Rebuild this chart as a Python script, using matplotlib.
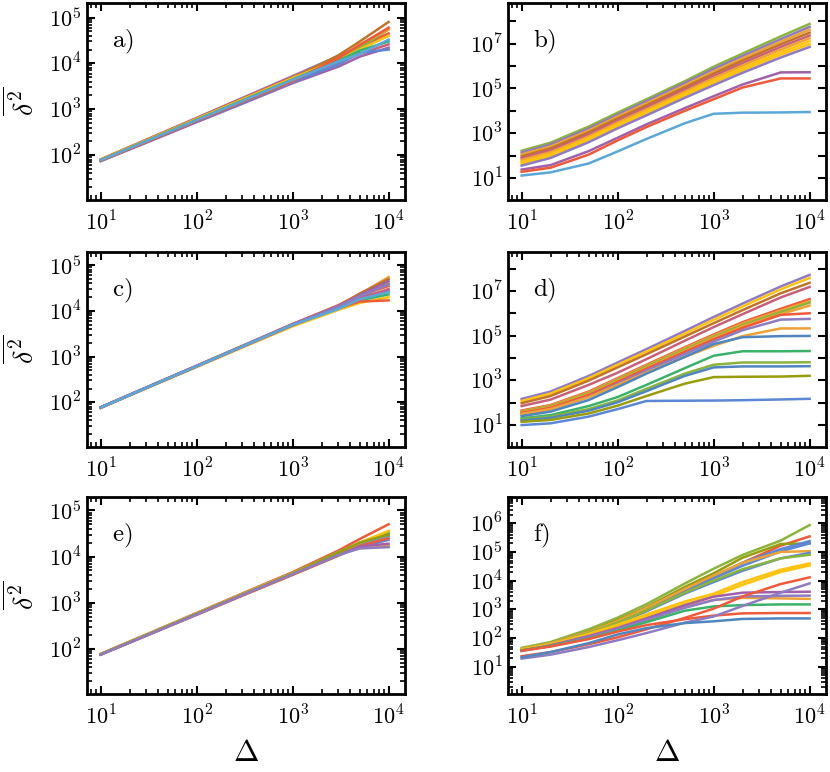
import numpy as np
import matplotlib
matplotlib.use('Agg')
import matplotlib.pyplot as plt
from matplotlib.ticker import LogLocator, FuncFormatter, NullLocator, NullFormatter

plt.rcParams['mathtext.fontset'] = 'cm'
plt.rcParams['font.family'] = 'serif'
plt.rcParams['font.serif'] = ['DejaVu Serif']

delta_left = [10, 30, 100, 300, 1000, 3000, 5000, 10000]
delta_right = [10, 20, 50, 100, 200, 500, 1000, 2000, 5000, 10000]

# colours
BLUE = '#5b87d6'
LBLUE = '#5aa7d8'
STEEL = '#4f86c0'
ORANGE = '#eea236'
RED = '#ef5a3a'
PURPLE = '#8e7cc3'
MAUVE = '#a260a8'
GREEN = '#3bb26a'
YGREEN = '#8ab43c'
OLIVE = '#999c0c'
GOLD = '#ffc20e'
BROWN = '#c0732a'
PINK = '#c9607a'

# panel a
msd_a = [
    [80, 218, 650, 1770, 5300, 1.45e4, 2.2e4, 4.0e4],
    [81, 216, 636, 1700, 5000, 1.35e4, 2.4e4, 4.5e4],
    [78, 206, 600, 1590, 4600, 1.2e4, 2.2e4, 5.5e4],
    [76, 200, 575, 1500, 4300, 1.25e4, 2.6e4, 5.5e4],
    [74, 187, 523, 1320, 3700, 8.5e3, 1.4e4, 2.2e4],
    [78, 208, 605, 1610, 4700, 1.5e4, 3.0e4, 8.0e4],
    [76, 199, 565, 1480, 4200, 1.05e4, 1.6e4, 2.6e4],
    [79, 210, 615, 1640, 4800, 1.2e4, 2.0e4, 4.0e4],
    [75, 192, 540, 1380, 3900, 9.5e3, 1.7e4, 2.0e4],
    [77, 204, 591, 1560, 4500, 1.15e4, 1.9e4, 3.0e4],
    [75, 194, 555, 1450, 4100, 1.3e4, 2.5e4, 6.0e4],
    [77, 202, 580, 1520, 4400, 1.1e4, 1.6e4, 3.3e4],
]
col_a = [PURPLE, RED, YGREEN, ORANGE, MAUVE, BROWN, PINK, GOLD, BLUE, GREEN, RED, LBLUE]

# panel b
msd_b = [
    [166, 380, 2000, 8300, 3.3e4, 2.1e5, 9.3e5, 3.6e6, 2.1e7, 7.6e7],
    [138, 316, 1620, 6760, 2.69e4, 1.74e5, 7.4e5, 2.8e6, 1.58e7, 5.6e7],
    [114, 257, 1330, 5560, 2.19e4, 1.38e5, 5.8e5, 2.2e6, 1.22e7, 4.2e7],
    [93, 211, 1100, 4570, 1.78e4, 1.12e5, 4.6e5, 1.74e6, 9.3e6, 3.1e7],
    [78, 174, 890, 3720, 1.45e4, 9.0e4, 3.6e5, 1.35e6, 7.1e6, 2.3e7],
    [65, 143, 725, 3020, 1.17e4, 7.2e4, 2.9e5, 1.05e6, 5.4e6, 1.74e7],
    [53, 117, 600, 2480, 9500, 5.9e4, 2.3e5, 8.2e5, 4.1e6, 1.3e7],
    [44, 97, 490, 2040, 7800, 4.7e4, 1.8e5, 6.5e5, 3.2e6, 9.5e6],
    [36, 79, 400, 1660, 6300, 3.8e4, 1.4e5, 5.0e5, 2.4e6, 7.1e6],
    [24, 38, 160, 630, 2500, 1.32e4, 4.5e4, 1.5e5, 5.2e5, 5.3e5],
    [19, 29, 112, 480, 1900, 1.0e4, 3.3e4, 1.1e5, 2.8e5, 2.8e5],
    [13, 18, 45, 155, 560, 2800, 7400, 8300, 8500, 8900],
]
col_b = [YGREEN, PURPLE, ORANGE, BROWN, PINK, ORANGE, GOLD, GOLD, PURPLE, MAUVE, RED, LBLUE]

# panel c
msd_c = [
    [78, 212, 630, 1700, 5100, 1.35e4, 2.3e4, 5.5e4],
    [77, 209, 620, 1680, 5000, 1.3e4, 2.4e4, 5.0e4],
    [76, 206, 610, 1650, 4900, 1.2e4, 2.0e4, 4.0e4],
    [77, 210, 630, 1720, 5200, 1.3e4, 2.2e4, 3.5e4],
    [75, 202, 590, 1580, 4600, 1.05e4, 1.5e4, 2.0e4],
    [76, 207, 615, 1670, 5000, 1.25e4, 2.0e4, 2.8e4],
    [77, 209, 623, 1690, 5050, 1.2e4, 1.7e4, 2.3e4],
    [76, 206, 610, 1650, 4900, 1.15e4, 1.6e4, 1.7e4],
    [78, 212, 630, 1700, 5100, 1.3e4, 2.2e4, 4.5e4],
    [76, 206, 607, 1640, 4850, 1.2e4, 1.9e4, 3.0e4],
    [77, 209, 620, 1680, 5000, 1.25e4, 2.1e4, 3.8e4],
    [76, 207, 613, 1660, 4950, 1.1e4, 1.8e4, 2.6e4],
]
col_c = [ORANGE, BROWN, YGREEN, RED, GOLD, BLUE, GREEN, RED, MAUVE, PINK, PURPLE, LBLUE]

# panel d
msd_d = [
    [148, 316, 1580, 6300, 2.5e4, 1.62e5, 6.8e5, 2.7e6, 1.58e7, 5.2e7],
    [120, 257, 1260, 5000, 1.95e4, 1.23e5, 5.1e5, 2.0e6, 1.17e7, 3.8e7],
    [95, 200, 980, 3800, 1.48e4, 9.1e4, 3.6e5, 1.38e6, 7.8e6, 2.3e7],
    [71, 138, 630, 2200, 8900, 5.9e4, 2.4e5, 9.1e5, 5.1e6, 1.5e7],
    [45, 79, 316, 1260, 5000, 3.0e4, 1.12e5, 4.0e5, 1.58e6, 4.3e6],
    [42, 74, 290, 1150, 4600, 2.7e4, 1.0e5, 3.5e5, 1.32e6, 3.5e6],
    [40, 69, 263, 1050, 4200, 2.4e4, 8.9e4, 3.0e5, 1.12e6, 3.0e6],
    [37, 63, 240, 930, 3700, 2.1e4, 7.8e4, 2.6e5, 9.1e5, 2.2e6],
    [35, 59, 220, 850, 3300, 1.86e4, 6.8e4, 2.2e5, 8.5e5, 1.0e6],
    [30, 50, 182, 710, 2750, 1.5e4, 5.4e4, 1.74e5, 5.2e5, 5.6e5],
    [32, 52, 178, 630, 2240, 1.12e4, 3.5e4, 9.5e4, 2.1e5, 2.1e5],
    [25, 40, 132, 500, 2000, 1.12e4, 4.2e4, 8.5e4, 9.5e4, 9.7e4],
    [20, 28, 71, 180, 630, 3500, 1.26e4, 2.0e4, 2.0e4, 2.05e4],
    [18, 24, 52, 126, 420, 2000, 5000, 6300, 6300, 6450],
    [16, 21, 44, 105, 330, 1580, 3800, 4200, 4200, 4300],
    [14, 17, 33, 74, 200, 710, 1400, 1450, 1480, 1600],
    [10, 12, 24, 52, 120, 123, 125, 130, 140, 150],
]
col_d = [PURPLE, GOLD, BROWN, PINK, RED, ORANGE, YGREEN, ORANGE, RED, PURPLE,
         ORANGE, STEEL, GREEN, YGREEN, STEEL, OLIVE, BLUE]

# panel e
msd_e = [
    [78, 206, 600, 1590, 4600, 1.35e4, 2.4e4, 5.0e4],
    [77, 202, 586, 1540, 4400, 1.15e4, 1.5e4, 1.7e4],
    [76, 200, 575, 1500, 4300, 1.2e4, 1.9e4, 3.3e4],
    [77, 202, 586, 1540, 4400, 1.25e4, 2.0e4, 3.5e4],
    [75, 194, 555, 1450, 4100, 1.05e4, 1.6e4, 2.3e4],
    [76, 198, 565, 1480, 4200, 1.1e4, 1.7e4, 3.0e4],
    [76, 198, 562, 1470, 4150, 1.1e4, 1.8e4, 2.8e4],
    [75, 193, 547, 1420, 4000, 1.05e4, 1.7e4, 2.5e4],
    [77, 201, 580, 1520, 4350, 1.15e4, 2.0e4, 3.6e4],
    [76, 198, 570, 1490, 4250, 1.1e4, 1.65e4, 1.9e4],
    [76, 198, 570, 1490, 4250, 1.2e4, 2.0e4, 3.0e4],
    [75, 194, 558, 1460, 4150, 1.08e4, 1.5e4, 1.6e4],
]
col_e = [RED, ORANGE, GREEN, YGREEN, BLUE, PURPLE, LBLUE, RED, GOLD, MAUVE, OLIVE, PURPLE]

# panel f
msd_f = [
    [45, 72, 200, 510, 1510, 7900, 2.6e4, 7.9e4, 2.5e5, 8.7e5],
    [38, 60, 150, 360, 1000, 4600, 1.3e4, 4.2e4, 1.66e5, 3.5e5],
    [40, 63, 166, 420, 1200, 6000, 1.8e4, 6.3e4, 1.9e5, 2.0e5],
    [40, 63, 158, 380, 1100, 5000, 1.45e4, 4.2e4, 1.26e5, 2.4e5],
    [39, 62, 151, 355, 1000, 4400, 1.2e4, 3.3e4, 1.05e5, 2.0e5],
    [41, 65, 162, 390, 1120, 5100, 1.5e4, 4.2e4, 1.0e5, 1.07e5],
    [38, 59, 141, 316, 850, 3500, 8900, 2.2e4, 6.0e4, 9.3e4],
    [39, 60, 148, 340, 910, 3800, 1.0e4, 2.5e4, 6.0e4, 8.0e4],
    [40, 60, 138, 290, 660, 1860, 3500, 8900, 2.4e4, 4.0e4],
    [38, 58, 126, 250, 560, 1510, 2900, 7100, 2.0e4, 3.4e4],
    [37, 56, 120, 230, 480, 1200, 2100, 2500, 2400, 2300],
    [36, 55, 115, 220, 480, 1380, 2750, 3800, 4000, 4100],
    [35, 52, 107, 200, 420, 1120, 2100, 2800, 2950, 3000],
    [37, 52, 95, 180, 355, 890, 1260, 1400, 1480, 1480],
    [36, 50, 91, 166, 280, 450, 600, 720, 740, 740],
    [23, 32, 60, 105, 200, 500, 1050, 2800, 7600, 1.3e4],
    [19, 26, 48, 83, 148, 340, 560, 1300, 3800, 8000],
    [21, 32, 66, 132, 220, 330, 380, 460, 480, 480],
]
col_f = [YGREEN, RED, OLIVE, BLUE, BLUE, ORANGE, BLUE, YGREEN, GOLD, GOLD,
         ORANGE, MAUVE, PURPLE, GREEN, RED, RED, PURPLE, STEEL]

panels = [
    ('a', delta_left, msd_a, col_a, (10.5, 2.07e5), 'all', [0.1048, 0.7409, 0.3831, 0.2552]),
    ('b', delta_right, msd_b, col_b, (1.05, 6.5e8), 'odd', [0.6120, 0.7409, 0.3831, 0.2552]),
    ('c', delta_left, msd_c, col_c, (10.5, 1.95e5), 'all', [0.1048, 0.4210, 0.3831, 0.2526]),
    ('d', delta_right, msd_d, col_d, (1.05, 5.5e8), 'odd', [0.6120, 0.4210, 0.3831, 0.2526]),
    ('e', delta_left, msd_e, col_e, (10.5, 1.95e5), 'all', [0.1048, 0.1010, 0.3831, 0.2552]),
    ('f', delta_right, msd_f, col_f, (1.1, 8.3e6), 'all', [0.6120, 0.1010, 0.3831, 0.2552]),
]


def pow_label(v, pos):
    return r'$10^{%d}$' % int(round(np.log10(v)))


def odd_label(v, pos):
    k = int(round(np.log10(v)))
    return r'$10^{%d}$' % k if k % 2 == 1 else ''


fig = plt.figure(figsize=(8.3, 7.72), dpi=100)

for name, x, curves, cols, ylim, lab, rect in panels:
    ax = fig.add_axes(rect)
    for y, c in zip(curves, cols):
        ax.plot(x, y, color=c, lw=1.8, solid_joinstyle='round')
    ax.set_xscale('log')
    ax.set_yscale('log')
    ax.set_xlim(7.2, 14800)
    ax.set_ylim(*ylim)

    ax.xaxis.set_major_locator(LogLocator(base=10, numticks=10))
    ax.xaxis.set_major_formatter(FuncFormatter(pow_label))
    ax.xaxis.set_minor_locator(LogLocator(base=10, subs=np.arange(2, 10), numticks=20))
    ax.xaxis.set_minor_formatter(NullFormatter())
    ax.yaxis.set_major_locator(LogLocator(base=10, numticks=20))
    if lab == 'odd':
        ax.yaxis.set_major_formatter(FuncFormatter(odd_label))
        ax.yaxis.set_minor_locator(NullLocator())
    else:
        ax.yaxis.set_major_formatter(FuncFormatter(pow_label))
        ax.yaxis.set_minor_locator(LogLocator(base=10, subs=np.arange(2, 10), numticks=20))
    ax.yaxis.set_minor_formatter(NullFormatter())

    ax.tick_params(which='both', direction='in', top=True, right=True)
    ax.tick_params(which='major', length=6, width=1.5, labelsize=16)
    ax.tick_params(which='minor', length=3.5, width=1.2)
    ax.tick_params(axis='x', which='major', pad=8)
    ax.tick_params(axis='y', which='major', pad=4)
    for s in ax.spines.values():
        s.set_linewidth(2)

    ax.text(0.08, 0.80, r'$\mathrm{%s)}$' % name, transform=ax.transAxes,
            fontsize=18, ha='left', va='center')
    if name in ('a', 'c', 'e'):
        ax.set_ylabel(r'$\overline{\delta^2}$', fontsize=20, labelpad=6)
    if name in ('e', 'f'):
        ax.set_xlabel(r'$\Delta$', fontsize=22, labelpad=6)

fig.savefig('out.png', dpi=100)
